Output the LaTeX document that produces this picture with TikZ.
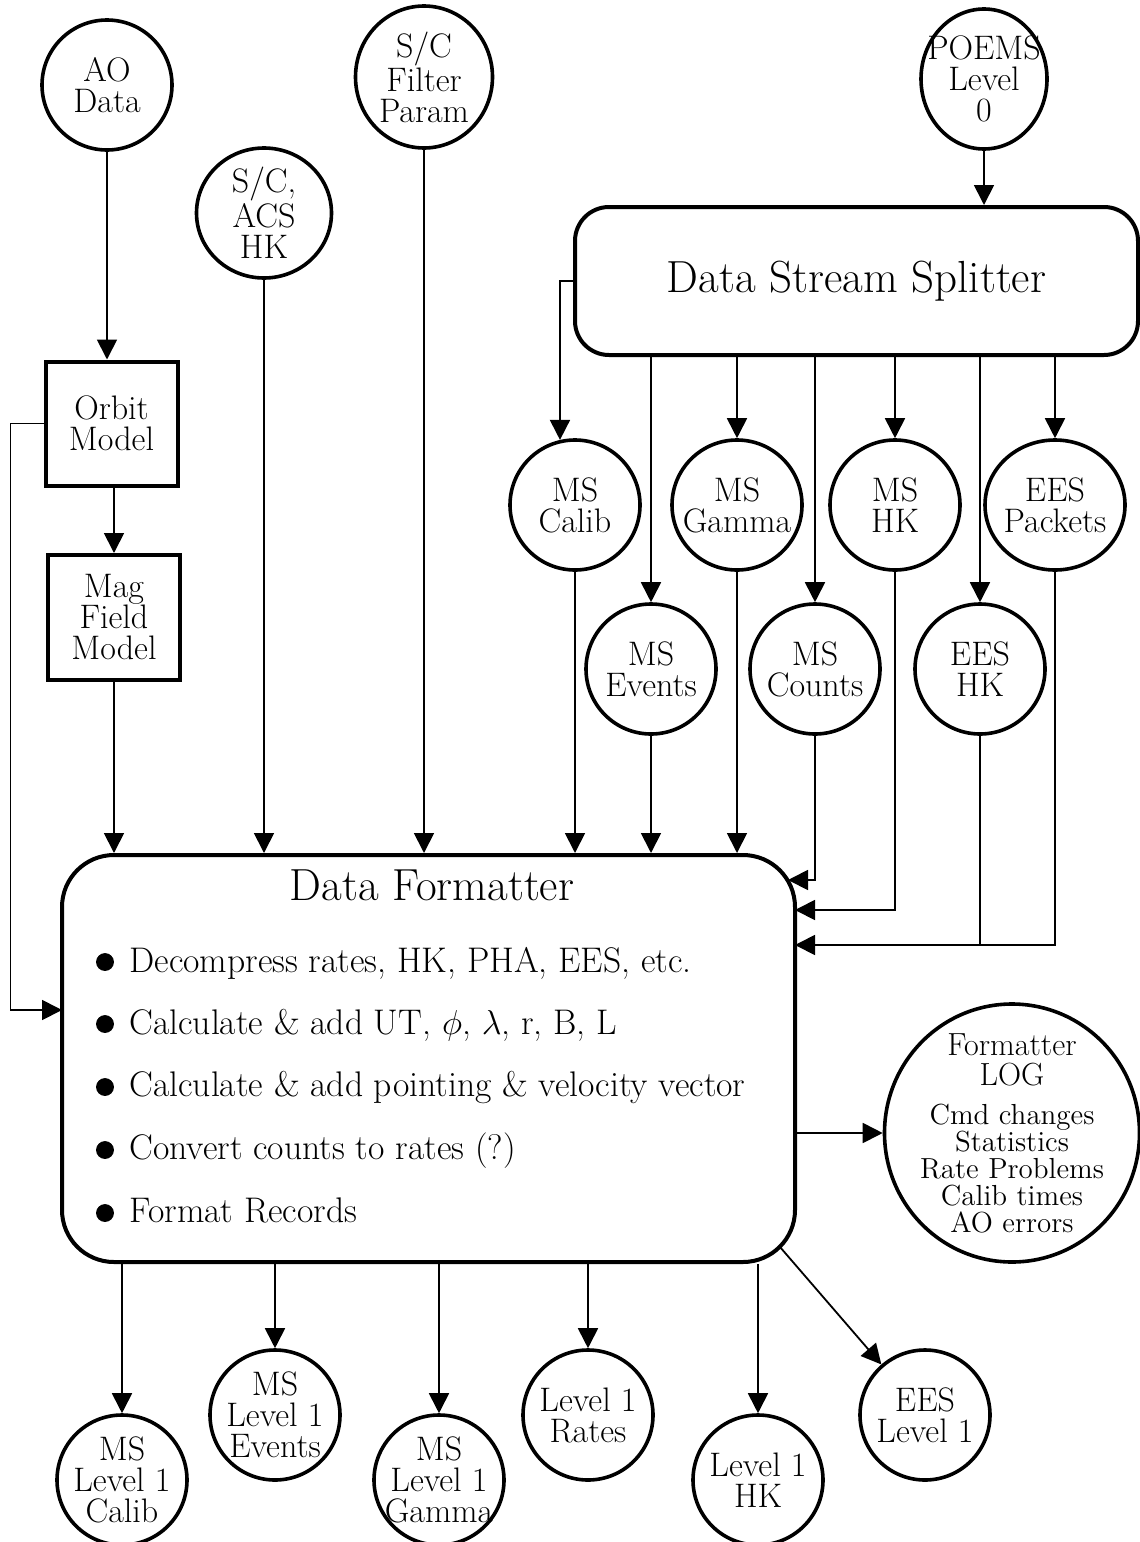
\documentclass[tikz,border=0pt]{standalone}
\usepackage{tikz}
\usetikzlibrary{arrows.meta,shapes.geometric}
\newcommand\circfont{\fontsize{17}{15.5}\selectfont}
\newcommand\bigfont{\fontsize{22.5}{24}\selectfont}
\newcommand\itemfont{\fontsize{17.8}{18}\selectfont}
\newcommand\loghead{\fontsize{16}{13.5}\selectfont}
\newcommand\logfont{\fontsize{14.5}{13.5}\selectfont}
\tikzset{
	datanode/.style={ellipse, draw, line width=1.8pt, minimum width=65pt, minimum height=65pt, inner sep=-12pt, align=center, font=\circfont},
	modelbox/.style={rectangle, draw, line width=2pt, minimum width=66pt, minimum height=62pt, align=center, font=\circfont},
	procbox/.style={rectangle, draw, line width=2pt, align=center, font=\bigfont},
	arr/.style={line width=0.9pt, -{Triangle[width=10pt,length=10pt]}},
	itemtext/.style={anchor=base west, inner sep=0pt, font=\itemfont},
}

\begin{document}
\begin{tikzpicture}[x=5pt, y=-5pt]
			%%%%% FRAME %%%%%
			\useasboundingbox (0, 0) rectangle (114, 154.2);
			
			%%%%% INPUTS %%%%%
			\node[datanode] (ao) at (10.7, 8.5) {AO\\Data};
			\node[datanode, minimum width=67.5pt] (scacs) at (26.4, 21.3) {S/C,\\ACS\\HK};
			\node[datanode, minimum width=68.5pt, minimum height=71pt] (scfilt) at (42.4, 7.7) {S/C\\Filter\\Param};
			\node[datanode, minimum width=63pt, minimum height=70pt] (poems) at (98.4, 7.9) {POEMS\\Level\\0};
			
			\node[modelbox] (orbit) at (11.15, 42.35) {Orbit\\Model};
			\node[modelbox, minimum height=62.5pt] (mag) at (11.4, 61.75) {Mag\\Field\\Model};
			
			\node[procbox, rounded corners=17pt, minimum width=281.5pt, minimum height=74pt] (split) at (85.65, 28.1) {Data Stream Splitter};
			
			%%%%% SPLITTER OUTPUTS %%%%%
			\node[datanode] (mscalib) at (57.5, 50.5) {MS\\Calib};
			\node[datanode] (msgamma) at (73.7, 50.5) {MS\\Gamma};
			\node[datanode] (mshk) at (89.5, 50.5) {MS\\HK};
			\node[datanode, minimum width=70pt] (eespk) at (105.5, 50.5) {EES\\Packets};
			\node[datanode] (msevents) at (65.1, 66.9) {MS\\Events};
			\node[datanode] (mscounts) at (81.5, 66.9) {MS\\Counts};
			\node[datanode] (eeshk) at (98.0, 66.9) {EES\\HK};
			
			%%%%% FORMATTER %%%%%
			\node[procbox, rounded corners=26pt, minimum width=366.5pt, minimum height=203.5pt] (fmt) at (42.85, 105.85) {};
			\node[anchor=base, font=\bigfont] (fmttitle) at (43.2, 90.0) {Data Formatter};
			
			\draw[fill=black] (10.5, 96.2) circle (0.85);
			\node[itemtext] (item1) at (12.9, 97.2) {Decompress rates, HK, PHA, EES, etc.};
			\draw[fill=black] (10.5, 102.4) circle (0.85);
			\node[itemtext] (item2) at (12.9, 103.4) {Calculate \& add UT, $\phi$, $\lambda$, r, B, L};
			\draw[fill=black] (10.5, 108.7) circle (0.85);
			\node[itemtext] (item3) at (12.9, 109.6) {Calculate \& add pointing \& velocity vector};
			\draw[fill=black] (10.5, 115.0) circle (0.85);
			\node[itemtext] (item4) at (12.9, 115.9) {Convert counts to rates (?)};
			\draw[fill=black] (10.5, 121.3) circle (0.85);
			\node[itemtext] (item5) at (12.9, 122.2) {Format Records};
			
			\node[datanode, font=\loghead, minimum width=127.5pt, minimum height=129pt] (log) at (101.2, 113.3) {Formatter\\[1.5pt]LOG\\[6pt]\logfont Cmd changes\\\logfont Statistics\\\logfont Rate Problems\\\logfont Calib times\\\logfont AO errors};
			
			%%%%% LEVEL 1 %%%%%
			\node[datanode] (l1calib) at (12.2, 148.0) {MS\\Level 1\\Calib};
			\node[datanode] (l1events) at (27.5, 141.5) {MS\\Level 1\\Events};
			\node[datanode] (l1gamma) at (43.9, 148.0) {MS\\Level 1\\Gamma};
			\node[datanode] (l1rates) at (58.8, 141.5) {Level 1\\Rates};
			\node[datanode] (l1hk) at (75.8, 148.0) {Level 1\\HK};
			\node[datanode] (eesl1) at (92.5, 141.5) {EES\\Level 1};
			
			\coordinate (forb) at (6.2, 101.0);
			\coordinate (fcnt) at (78.8, 88.0);
			\coordinate (fhk) at (79.5, 91.0);
			\coordinate (fees) at (79.5, 94.5);
			\coordinate (fse) at (78.0, 124.7);
			
			%%%%% CONNECTIONS %%%%%
			\draw[arr] (ao) -- (ao |- orbit.north);
			\draw[arr] (orbit.south -| mag) -- (mag);
			\draw[arr] (orbit.west) -- ++(-3.3, 0) |- (forb);
			\draw[arr] (mag) -- (mag |- fmt.north);
			\draw[arr] (scacs) -- (scacs |- fmt.north);
			\draw[arr] (scfilt) -- (scfilt |- fmt.north);
			\draw[arr] (poems) -- (poems |- split.north);
			
			\draw[arr] (split.west) -| (mscalib.103);
			\draw[arr] (msevents |- split.south) -- (msevents);
			\draw[arr] (msgamma |- split.south) -- (msgamma);
			\draw[arr] (mscounts |- split.south) -- (mscounts);
			\draw[arr] (mshk |- split.south) -- (mshk);
			\draw[arr] (eeshk |- split.south) -- (eeshk);
			\draw[arr] (eespk |- split.south) -- (eespk);
			
			\draw[arr] (mscalib) -- (mscalib |- fmt.north);
			\draw[arr] (msevents) -- (msevents |- fmt.north);
			\draw[arr] (msgamma) -- (msgamma |- fmt.north);
			\draw[arr] (mscounts) |- (fcnt);
			\draw[arr] (mshk) |- (fhk);
			\draw[line width=0.9pt] (eeshk) -- (eeshk |- fees);
			\draw[arr] (eespk) |- (fees);
			
			\draw[arr] (fmt.east |- log.west) -- (log.west);
			
			\draw[arr] (l1calib |- fmt.south) -- (l1calib);
			\draw[arr] (l1events |- fmt.south) -- (l1events);
			\draw[arr] (l1gamma |- fmt.south) -- (l1gamma);
			\draw[arr] (l1rates |- fmt.south) -- (l1rates);
			\draw[arr] (l1hk |- fmt.south) -- (l1hk);
			\draw[arr] (fse) -- (eesl1);
			%%%%% END %%%%%
\end{tikzpicture}
\end{document}
